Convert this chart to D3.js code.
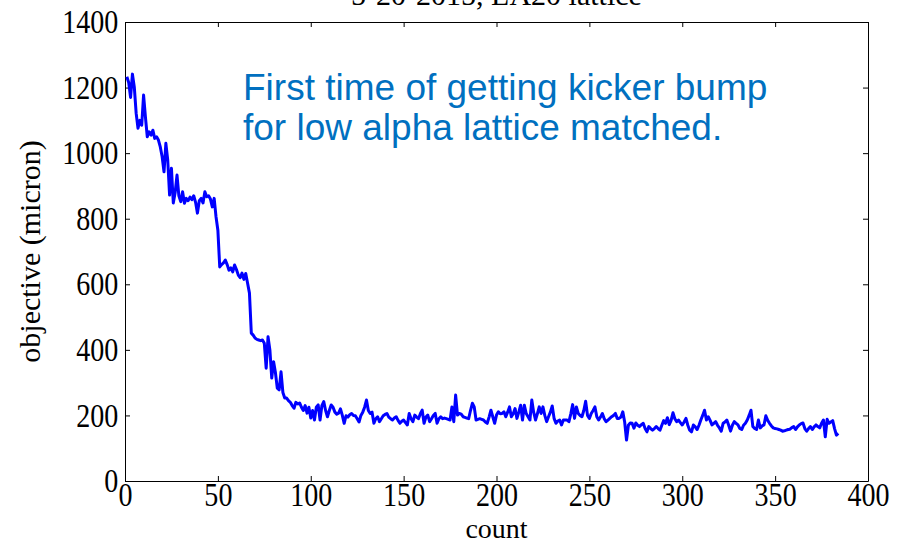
<!DOCTYPE html>
<html lang="en">

<head>
    <meta charset="utf-8">
    <title>LA20 lattice objective</title>
    <script type="text/javascript" src="https://cdn.jsdelivr.net/npm/d3@7"></script>
    <style type="text/css">
        body {
            margin: 0;
            background: white;
        }

        .axis text {
            font-family: "Liberation Serif", "Times New Roman", serif;
            font-size: 33px;
            fill: black;
        }

        .axis path,
        .axis line {
            stroke: black;
            stroke-width: 1px;
        }
    </style>
</head>

<body>
    <script type="text/javascript">

        // objective value for each count (1..384)
        var objective = [
            1233, 1215, 1170, 1241, 1202, 1122, 1076, 1100, 1085, 1177,
            1110, 1050, 1065, 1055, 1070, 1045, 1050, 1040, 1019, 989,
            943, 1030, 979, 872, 954, 848, 880, 933, 870, 852,
            882, 847, 862, 855, 866, 858, 870, 850, 817, 855,
            862, 848, 882, 867, 870, 860, 836, 862, 806, 765,
            653, 660, 665, 674, 660, 643, 650, 638, 659, 645,
            628, 620, 634, 615, 633, 603, 573, 451, 445, 436,
            432, 430, 428, 430, 420, 344, 440, 400, 314, 364,
            330, 283, 278, 333, 270, 253, 253, 245, 240, 230,
            222, 240, 235, 238, 225, 215, 230, 207, 225, 192,
            215, 186, 225, 232, 186, 230, 242, 215, 196, 215,
            232, 225, 210, 204, 207, 220, 200, 176, 199, 195,
            202, 206, 200, 199, 190, 180, 200, 210, 225, 247,
            215, 206, 210, 176, 190, 196, 181, 190, 199, 203,
            206, 195, 190, 186, 192, 196, 185, 176, 182, 186,
            178, 171, 206, 190, 181, 201, 195, 190, 205, 216,
            176, 195, 201, 181, 190, 200, 206, 176, 190, 196,
            190, 192, 190, 188, 186, 226, 181, 262, 201, 206,
            204, 196, 194, 192, 190, 215, 237, 226, 186, 188,
            190, 188, 186, 180, 176, 195, 216, 196, 176, 201,
            211, 205, 206, 211, 196, 210, 226, 196, 205, 221,
            191, 210, 231, 186, 231, 206, 196, 186, 247, 210,
            186, 205, 226, 206, 226, 200, 181, 196, 210, 229,
            191, 176, 183, 186, 171, 186, 186, 186, 181, 205,
            233, 191, 226, 206, 200, 196, 215, 243, 200, 191,
            206, 215, 226, 196, 186, 195, 206, 190, 181, 186,
            191, 196, 200, 206, 191, 191, 195, 211, 180, 125,
            170, 177, 176, 161, 177, 170, 166, 172, 176, 160,
            150, 166, 160, 155, 160, 166, 160, 155, 170, 184,
            176, 193, 172, 185, 208, 190, 181, 186, 178, 171,
            180, 191, 170, 155, 150, 171, 165, 157, 170, 186,
            200, 216, 186, 196, 185, 171, 176, 181, 170, 162,
            152, 176, 180, 186, 170, 152, 170, 181, 176, 171,
            160, 157, 170, 176, 186, 200, 216, 166, 160, 157,
            186, 162, 168, 171, 199, 185, 176, 168, 162, 160,
            159, 157, 155, 152, 153, 155, 157, 158, 163, 166,
            157, 165, 171, 175, 177, 160, 152, 160, 166, 157,
            165, 171, 166, 162, 176, 186, 135, 188, 176, 180,
            184, 160, 140, 145
        ];
        var xTicks = [0, 50, 100, 150, 200, 250, 300, 350, 400];
        var yTicks = [0, 200, 400, 600, 800, 1000, 1200, 1400];
        var titleText = "5-20-2015, LA20 lattice";
        var xLabel = "count";
        var yLabel = "objective (micron)";
        var noteLines = ["First time of getting kicker bump", "for low alpha lattice matched."];

        var w = 905;
        var h = 545;
        var margin = { top: 22, right: 37, bottom: 64, left: 125 };
        var iw = w - margin.left - margin.right;
        var ih = h - margin.top - margin.bottom;

        var svg = d3.select("body")
            .append("svg")
            .attr("width", w)
            .attr("height", h);

        var g = svg.append("g")
            .attr("transform", "translate(" + margin.left + "," + margin.top + ")");

        var x = d3.scaleLinear().domain([0, 400]).range([0, iw]);
        var y = d3.scaleLinear().domain([0, 1400]).range([ih, 0]);

        // bottom axis with inward ticks and labels
        var xAxis = g.append("g")
            .attr("class", "axis")
            .attr("transform", "translate(0," + ih + ")")
            .call(d3.axisBottom(x).tickValues(xTicks).tickFormat(d3.format("d"))
                .tickSize(-5).tickPadding(2).tickSizeOuter(0));

        // top axis (ticks only)
        g.append("g")
            .attr("class", "axis")
            .call(d3.axisTop(x).tickValues(xTicks).tickSize(-5).tickFormat("").tickSizeOuter(0));

        // left axis
        var yAxis = g.append("g")
            .attr("class", "axis")
            .call(d3.axisLeft(y).tickValues(yTicks).tickFormat(d3.format("d"))
                .tickSize(-5).tickPadding(8).tickSizeOuter(0));

        // right axis (ticks only)
        g.append("g")
            .attr("class", "axis")
            .attr("transform", "translate(" + iw + ",0)")
            .call(d3.axisRight(y).tickValues(yTicks).tickSize(-5).tickFormat("").tickSizeOuter(0));

        // narrow the tick digits a little, like the original
        xAxis.selectAll(".tick text").attr("transform", "scale(0.85,1)");
        yAxis.selectAll(".tick text").attr("transform", "scale(0.85,1)");

        // the data line
        var line = d3.line()
            .x(function (d, i) { return x(i + 1); })
            .y(function (d) { return y(d); });

        g.append("path")
            .datum(objective)
            .attr("d", line)
            .attr("fill", "none")
            .attr("stroke", "#0000ff")
            .attr("stroke-width", 3)
            .attr("stroke-linejoin", "round");

        // title, mostly clipped at top like the original
        svg.append("text")
            .attr("x", margin.left + iw / 2)
            .attr("y", 5)
            .attr("text-anchor", "middle")
            .attr("font-family", "Liberation Serif")
            .attr("font-size", "30px")
            .text(titleText);

        svg.append("text")
            .attr("x", margin.left + iw / 2)
            .attr("y", 538)
            .attr("text-anchor", "middle")
            .attr("font-family", "Liberation Serif")
            .attr("font-size", "28px")
            .text(xLabel);

        svg.append("text")
            .attr("transform", "translate(40," + (margin.top + ih / 2) + ") rotate(-90)")
            .attr("text-anchor", "middle")
            .attr("font-family", "Liberation Serif")
            .attr("font-size", "30px")
            .text(yLabel);

        // blue annotation
        svg.selectAll("text.note")
            .data(noteLines)
            .enter()
            .append("text")
            .attr("class", "note")
            .attr("x", 243)
            .attr("y", function (d, i) { return 100 + i * 40; })
            .attr("font-family", "Liberation Sans, Arial, sans-serif")
            .attr("font-size", "37px")
            .attr("fill", "#0070c0")
            .text(function (d) { return d; });

    </script>
</body>

</html>
